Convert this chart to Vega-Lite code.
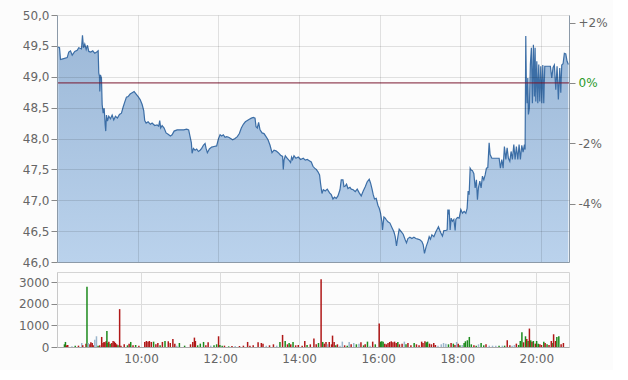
{
  "$schema": "https://vega.github.io/schema/vega-lite/v6.json",
  "background": "#fcfcfc",
  "padding": {"left": 6, "top": 9, "right": 5, "bottom": 5},
  "spacing": 3,
  "config": {
    "view": {"stroke": null},
    "axis": {"labelFont": "DejaVu Sans", "labelFontSize": 12, "labelColor": "#666", "title": null, "tickColor": "#888", "tickSize": 6}
  },
  "datasets": {
    "price": [
      {"h":8.03,"p":49.48},{"h":8.062,"p":49.47},{"h":8.087,"p":49.28},{"h":8.144,"p":49.29},{"h":8.253,"p":49.31},{"h":8.292,"p":49.40},{"h":8.335,"p":49.42},{"h":8.377,"p":49.35},{"h":8.441,"p":49.41},{"h":8.501,"p":49.43},{"h":8.54,"p":49.47},{"h":8.607,"p":49.45},{"h":8.632,"p":49.67},{"h":8.657,"p":49.47},{"h":8.689,"p":49.53},{"h":8.724,"p":49.44},{"h":8.756,"p":49.51},{"h":8.788,"p":49.41},{"h":8.838,"p":49.40},{"h":8.887,"p":49.42},{"h":8.937,"p":49.38},{"h":8.986,"p":49.40},{"h":9.021,"p":49.42},{"h":9.036,"p":49.06},{"h":9.053,"p":49.01},{"h":9.061,"p":48.76},{"h":9.078,"p":49.03},{"h":9.103,"p":48.98},{"h":9.12,"p":48.55},{"h":9.145,"p":48.41},{"h":9.17,"p":48.49},{"h":9.195,"p":48.22},{"h":9.209,"p":48.12},{"h":9.227,"p":48.38},{"h":9.252,"p":48.28},{"h":9.284,"p":48.36},{"h":9.326,"p":48.32},{"h":9.368,"p":48.38},{"h":9.408,"p":48.30},{"h":9.45,"p":48.36},{"h":9.499,"p":48.33},{"h":9.549,"p":48.39},{"h":9.599,"p":48.41},{"h":9.641,"p":48.51},{"h":9.68,"p":48.59},{"h":9.722,"p":48.67},{"h":9.765,"p":48.68},{"h":9.814,"p":48.72},{"h":9.864,"p":48.74},{"h":9.913,"p":48.76},{"h":9.963,"p":48.72},{"h":10.012,"p":48.68},{"h":10.062,"p":48.63},{"h":10.112,"p":48.55},{"h":10.151,"p":48.45},{"h":10.176,"p":48.29},{"h":10.211,"p":48.25},{"h":10.26,"p":48.27},{"h":10.317,"p":48.23},{"h":10.359,"p":48.25},{"h":10.424,"p":48.21},{"h":10.483,"p":48.22},{"h":10.523,"p":48.20},{"h":10.548,"p":48.29},{"h":10.572,"p":48.17},{"h":10.607,"p":48.21},{"h":10.657,"p":48.17},{"h":10.706,"p":48.09},{"h":10.756,"p":48.07},{"h":10.813,"p":48.04},{"h":10.855,"p":48.06},{"h":10.905,"p":48.12},{"h":10.979,"p":48.14},{"h":11.061,"p":48.14},{"h":11.143,"p":48.14},{"h":11.217,"p":48.15},{"h":11.266,"p":48.14},{"h":11.301,"p":48.03},{"h":11.333,"p":47.93},{"h":11.351,"p":47.76},{"h":11.383,"p":47.84},{"h":11.425,"p":47.81},{"h":11.465,"p":47.83},{"h":11.507,"p":47.79},{"h":11.549,"p":47.81},{"h":11.589,"p":47.84},{"h":11.631,"p":47.89},{"h":11.673,"p":47.92},{"h":11.698,"p":47.84},{"h":11.73,"p":47.77},{"h":11.779,"p":47.83},{"h":11.836,"p":47.86},{"h":11.896,"p":47.87},{"h":11.96,"p":47.88},{"h":12.002,"p":47.99},{"h":12.045,"p":48.06},{"h":12.084,"p":48.04},{"h":12.126,"p":48.06},{"h":12.169,"p":48.02},{"h":12.208,"p":48.03},{"h":12.258,"p":48.02},{"h":12.307,"p":48.00},{"h":12.357,"p":47.98},{"h":12.416,"p":48.00},{"h":12.473,"p":48.03},{"h":12.523,"p":48.08},{"h":12.572,"p":48.17},{"h":12.622,"p":48.23},{"h":12.672,"p":48.27},{"h":12.721,"p":48.29},{"h":12.771,"p":48.31},{"h":12.82,"p":48.33},{"h":12.87,"p":48.34},{"h":12.912,"p":48.33},{"h":12.937,"p":48.19},{"h":12.969,"p":48.17},{"h":13.001,"p":48.26},{"h":13.036,"p":48.14},{"h":13.086,"p":48.09},{"h":13.135,"p":48.08},{"h":13.185,"p":48.03},{"h":13.234,"p":47.98},{"h":13.284,"p":47.89},{"h":13.333,"p":47.77},{"h":13.383,"p":47.81},{"h":13.432,"p":47.80},{"h":13.489,"p":47.77},{"h":13.546,"p":47.73},{"h":13.596,"p":47.71},{"h":13.613,"p":47.50},{"h":13.631,"p":47.65},{"h":13.663,"p":47.72},{"h":13.712,"p":47.68},{"h":13.762,"p":47.64},{"h":13.794,"p":47.61},{"h":13.819,"p":47.70},{"h":13.844,"p":47.66},{"h":13.879,"p":47.72},{"h":13.928,"p":47.68},{"h":13.985,"p":47.70},{"h":14.042,"p":47.66},{"h":14.109,"p":47.68},{"h":14.159,"p":47.65},{"h":14.208,"p":47.66},{"h":14.258,"p":47.64},{"h":14.307,"p":47.62},{"h":14.349,"p":47.55},{"h":14.389,"p":47.52},{"h":14.431,"p":47.50},{"h":14.473,"p":47.46},{"h":14.513,"p":47.41},{"h":14.538,"p":47.27},{"h":14.572,"p":47.11},{"h":14.605,"p":47.17},{"h":14.654,"p":47.15},{"h":14.704,"p":47.18},{"h":14.761,"p":47.12},{"h":14.803,"p":47.09},{"h":14.845,"p":47.02},{"h":14.885,"p":47.05},{"h":14.927,"p":47.03},{"h":14.969,"p":47.07},{"h":15.019,"p":47.17},{"h":15.051,"p":47.33},{"h":15.093,"p":47.33},{"h":15.118,"p":47.22},{"h":15.15,"p":47.23},{"h":15.182,"p":47.26},{"h":15.217,"p":47.19},{"h":15.266,"p":47.21},{"h":15.299,"p":47.18},{"h":15.348,"p":47.17},{"h":15.398,"p":47.14},{"h":15.447,"p":47.18},{"h":15.497,"p":47.12},{"h":15.546,"p":47.07},{"h":15.596,"p":47.15},{"h":15.646,"p":47.22},{"h":15.695,"p":47.30},{"h":15.745,"p":47.34},{"h":15.777,"p":47.28},{"h":15.812,"p":47.19},{"h":15.844,"p":47.09},{"h":15.876,"p":47.02},{"h":15.918,"p":47.03},{"h":15.96,"p":46.92},{"h":15.993,"p":46.87},{"h":16.025,"p":46.79},{"h":16.059,"p":46.65},{"h":16.074,"p":46.52},{"h":16.109,"p":46.73},{"h":16.141,"p":46.71},{"h":16.173,"p":46.68},{"h":16.208,"p":46.65},{"h":16.258,"p":46.63},{"h":16.307,"p":46.56},{"h":16.357,"p":46.49},{"h":16.389,"p":46.41},{"h":16.421,"p":46.26},{"h":16.456,"p":46.41},{"h":16.488,"p":46.53},{"h":16.538,"p":46.49},{"h":16.587,"p":46.45},{"h":16.637,"p":46.36},{"h":16.669,"p":46.31},{"h":16.704,"p":46.38},{"h":16.753,"p":46.40},{"h":16.803,"p":46.38},{"h":16.853,"p":46.40},{"h":16.902,"p":46.38},{"h":16.952,"p":46.37},{"h":17.001,"p":46.36},{"h":17.051,"p":46.33},{"h":17.083,"p":46.28},{"h":17.115,"p":46.14},{"h":17.157,"p":46.25},{"h":17.2,"p":46.33},{"h":17.232,"p":46.41},{"h":17.264,"p":46.37},{"h":17.299,"p":46.44},{"h":17.348,"p":46.41},{"h":17.398,"p":46.49},{"h":17.43,"p":46.53},{"h":17.462,"p":46.57},{"h":17.497,"p":46.51},{"h":17.522,"p":46.47},{"h":17.561,"p":46.42},{"h":17.596,"p":46.51},{"h":17.646,"p":46.51},{"h":17.678,"p":46.52},{"h":17.695,"p":46.85},{"h":17.71,"p":46.77},{"h":17.727,"p":46.85},{"h":17.752,"p":46.52},{"h":17.777,"p":46.71},{"h":17.809,"p":46.66},{"h":17.844,"p":46.69},{"h":17.876,"p":46.51},{"h":17.893,"p":46.69},{"h":17.933,"p":46.72},{"h":17.975,"p":46.71},{"h":18.017,"p":46.85},{"h":18.057,"p":46.79},{"h":18.099,"p":46.82},{"h":18.141,"p":46.79},{"h":18.173,"p":46.87},{"h":18.198,"p":47.15},{"h":18.223,"p":47.09},{"h":18.248,"p":47.52},{"h":18.273,"p":47.49},{"h":18.305,"p":47.48},{"h":18.34,"p":47.43},{"h":18.372,"p":47.20},{"h":18.404,"p":47.33},{"h":18.429,"p":47.01},{"h":18.453,"p":47.20},{"h":18.488,"p":47.31},{"h":18.52,"p":47.20},{"h":18.553,"p":47.39},{"h":18.587,"p":47.33},{"h":18.62,"p":47.41},{"h":18.652,"p":47.52},{"h":18.686,"p":47.53},{"h":18.719,"p":47.93},{"h":18.743,"p":47.74},{"h":18.786,"p":47.68},{"h":18.843,"p":47.68},{"h":18.9,"p":47.68},{"h":18.967,"p":47.68},{"h":18.999,"p":47.52},{"h":19.033,"p":47.66},{"h":19.066,"p":47.52},{"h":19.098,"p":47.87},{"h":19.133,"p":47.66},{"h":19.165,"p":47.85},{"h":19.197,"p":47.68},{"h":19.232,"p":47.63},{"h":19.264,"p":47.79},{"h":19.296,"p":47.66},{"h":19.331,"p":47.90},{"h":19.363,"p":47.66},{"h":19.395,"p":47.87},{"h":19.43,"p":47.66},{"h":19.462,"p":47.90},{"h":19.494,"p":47.66},{"h":19.529,"p":47.89},{"h":19.561,"p":47.78},{"h":19.594,"p":47.90},{"h":19.611,"p":47.82},{"h":19.628,"p":49.66},{"h":19.643,"p":48.82},{"h":19.66,"p":48.57},{"h":19.678,"p":48.98},{"h":19.693,"p":48.39},{"h":19.717,"p":48.49},{"h":19.742,"p":49.20},{"h":19.767,"p":49.47},{"h":19.792,"p":48.57},{"h":19.817,"p":49.52},{"h":19.841,"p":48.68},{"h":19.859,"p":49.47},{"h":19.876,"p":48.60},{"h":19.901,"p":49.25},{"h":19.926,"p":48.57},{"h":19.95,"p":49.20},{"h":19.975,"p":48.60},{"h":20.0,"p":49.17},{"h":20.025,"p":48.57},{"h":20.05,"p":49.19},{"h":20.074,"p":48.57},{"h":20.099,"p":49.17},{"h":20.139,"p":49.17},{"h":20.188,"p":49.17},{"h":20.238,"p":49.17},{"h":20.272,"p":48.98},{"h":20.305,"p":49.15},{"h":20.337,"p":49.19},{"h":20.372,"p":48.79},{"h":20.404,"p":49.17},{"h":20.436,"p":48.63},{"h":20.471,"p":49.14},{"h":20.496,"p":48.74},{"h":20.52,"p":49.19},{"h":20.553,"p":49.21},{"h":20.585,"p":49.38},{"h":20.62,"p":49.37},{"h":20.652,"p":49.25},{"h":20.684,"p":49.20}
    ],
    "volume": [
      {"h":8.062,"v":124,"c":"g"},{"h":8.087,"v":233,"c":"g"},{"h":8.112,"v":78,"c":"r"},{"h":8.145,"v":93,"c":"r"},{"h":8.252,"v":31,"c":"b"},{"h":8.335,"v":62,"c":"g"},{"h":8.417,"v":62,"c":"r"},{"h":8.5,"v":186,"c":"b"},{"h":8.525,"v":78,"c":"r"},{"h":8.607,"v":155,"c":"r"},{"h":8.632,"v":2790,"c":"g"},{"h":8.665,"v":186,"c":"b"},{"h":8.706,"v":124,"c":"r"},{"h":8.731,"v":217,"c":"r"},{"h":8.764,"v":186,"c":"r"},{"h":8.789,"v":78,"c":"r"},{"h":8.83,"v":341,"c":"b"},{"h":8.872,"v":496,"c":"b"},{"h":8.913,"v":62,"c":"g"},{"h":8.954,"v":78,"c":"r"},{"h":9.004,"v":465,"c":"r"},{"h":9.037,"v":186,"c":"r"},{"h":9.062,"v":233,"c":"r"},{"h":9.086,"v":217,"c":"r"},{"h":9.119,"v":279,"c":"r"},{"h":9.136,"v":744,"c":"g"},{"h":9.161,"v":186,"c":"g"},{"h":9.185,"v":248,"c":"r"},{"h":9.218,"v":155,"c":"g"},{"h":9.26,"v":186,"c":"r"},{"h":9.293,"v":279,"c":"r"},{"h":9.326,"v":248,"c":"r"},{"h":9.351,"v":186,"c":"r"},{"h":9.384,"v":124,"c":"r"},{"h":9.417,"v":78,"c":"g"},{"h":9.458,"v":1752,"c":"r"},{"h":9.491,"v":62,"c":"r"},{"h":9.574,"v":124,"c":"r"},{"h":9.656,"v":78,"c":"g"},{"h":9.698,"v":155,"c":"r"},{"h":9.739,"v":233,"c":"g"},{"h":9.797,"v":78,"c":"r"},{"h":9.863,"v":93,"c":"g"},{"h":9.945,"v":62,"c":"r"},{"h":10.094,"v":233,"c":"r"},{"h":10.135,"v":279,"c":"r"},{"h":10.177,"v":248,"c":"r"},{"h":10.21,"v":279,"c":"r"},{"h":10.259,"v":233,"c":"r"},{"h":10.317,"v":248,"c":"g"},{"h":10.375,"v":124,"c":"r"},{"h":10.425,"v":186,"c":"r"},{"h":10.482,"v":78,"c":"g"},{"h":10.54,"v":233,"c":"r"},{"h":10.606,"v":279,"c":"g"},{"h":10.689,"v":264,"c":"r"},{"h":10.739,"v":186,"c":"r"},{"h":10.805,"v":372,"c":"r"},{"h":10.854,"v":155,"c":"r"},{"h":10.904,"v":62,"c":"b"},{"h":10.97,"v":186,"c":"g"},{"h":11.102,"v":62,"c":"g"},{"h":11.251,"v":124,"c":"r"},{"h":11.309,"v":233,"c":"r"},{"h":11.35,"v":434,"c":"r"},{"h":11.375,"v":279,"c":"r"},{"h":11.432,"v":78,"c":"g"},{"h":11.499,"v":155,"c":"g"},{"h":11.581,"v":233,"c":"g"},{"h":11.639,"v":78,"c":"r"},{"h":11.697,"v":217,"c":"r"},{"h":11.763,"v":62,"c":"b"},{"h":11.846,"v":78,"c":"g"},{"h":11.912,"v":124,"c":"g"},{"h":11.961,"v":496,"c":"r"},{"h":11.994,"v":93,"c":"g"},{"h":12.052,"v":62,"c":"g"},{"h":12.11,"v":62,"c":"r"},{"h":12.217,"v":31,"c":"g"},{"h":12.3,"v":47,"c":"r"},{"h":12.382,"v":47,"c":"b"},{"h":12.49,"v":47,"c":"r"},{"h":12.589,"v":62,"c":"r"},{"h":12.696,"v":233,"c":"r"},{"h":12.754,"v":62,"c":"r"},{"h":12.837,"v":78,"c":"r"},{"h":12.961,"v":217,"c":"r"},{"h":13.043,"v":186,"c":"r"},{"h":13.085,"v":155,"c":"r"},{"h":13.167,"v":62,"c":"b"},{"h":13.25,"v":78,"c":"r"},{"h":13.349,"v":124,"c":"r"},{"h":13.432,"v":62,"c":"b"},{"h":13.514,"v":233,"c":"g"},{"h":13.58,"v":558,"c":"r"},{"h":13.646,"v":279,"c":"g"},{"h":13.704,"v":124,"c":"r"},{"h":13.746,"v":186,"c":"g"},{"h":13.787,"v":124,"c":"r"},{"h":13.845,"v":233,"c":"g"},{"h":13.911,"v":78,"c":"r"},{"h":13.977,"v":93,"c":"r"},{"h":14.076,"v":62,"c":"r"},{"h":14.142,"v":279,"c":"r"},{"h":14.2,"v":93,"c":"g"},{"h":14.282,"v":124,"c":"r"},
      {"h":14.373,"v":388,"c":"r"},{"h":14.431,"v":124,"c":"r"},{"h":14.489,"v":186,"c":"g"},{"h":14.555,"v":3131,"c":"r"},{"h":14.596,"v":233,"c":"g"},{"h":14.637,"v":155,"c":"r"},{"h":14.679,"v":233,"c":"r"},{"h":14.72,"v":124,"c":"b"},{"h":14.761,"v":233,"c":"r"},{"h":14.819,"v":124,"c":"r"},{"h":14.844,"v":527,"c":"r"},{"h":14.885,"v":233,"c":"r"},{"h":14.927,"v":78,"c":"g"},{"h":14.968,"v":124,"c":"r"},{"h":15.034,"v":62,"c":"b"},{"h":15.092,"v":248,"c":"b"},{"h":15.15,"v":78,"c":"r"},{"h":15.216,"v":62,"c":"g"},{"h":15.265,"v":233,"c":"b"},{"h":15.315,"v":124,"c":"r"},{"h":15.381,"v":186,"c":"b"},{"h":15.447,"v":124,"c":"g"},{"h":15.513,"v":155,"c":"b"},{"h":15.563,"v":217,"c":"r"},{"h":15.629,"v":78,"c":"g"},{"h":15.67,"v":124,"c":"r"},{"h":15.728,"v":248,"c":"g"},{"h":15.794,"v":62,"c":"b"},{"h":15.86,"v":248,"c":"r"},{"h":15.926,"v":124,"c":"g"},{"h":16.025,"v":1085,"c":"r"},{"h":16.058,"v":248,"c":"g"},{"h":16.091,"v":264,"c":"g"},{"h":16.124,"v":248,"c":"g"},{"h":16.166,"v":155,"c":"r"},{"h":16.207,"v":124,"c":"r"},{"h":16.248,"v":186,"c":"r"},{"h":16.29,"v":233,"c":"r"},{"h":16.331,"v":264,"c":"r"},{"h":16.372,"v":217,"c":"r"},{"h":16.414,"v":248,"c":"r"},{"h":16.455,"v":186,"c":"r"},{"h":16.496,"v":233,"c":"g"},{"h":16.537,"v":124,"c":"r"},{"h":16.604,"v":155,"c":"r"},{"h":16.661,"v":248,"c":"b"},{"h":16.703,"v":124,"c":"g"},{"h":16.752,"v":186,"c":"r"},{"h":16.827,"v":78,"c":"r"},{"h":16.909,"v":186,"c":"g"},{"h":16.967,"v":124,"c":"r"},{"h":17.033,"v":78,"c":"r"},{"h":17.099,"v":248,"c":"r"},{"h":17.132,"v":186,"c":"r"},{"h":17.182,"v":264,"c":"r"},{"h":17.215,"v":217,"c":"g"},{"h":17.248,"v":248,"c":"g"},{"h":17.297,"v":155,"c":"r"},{"h":17.347,"v":124,"c":"r"},{"h":17.405,"v":186,"c":"r"},{"h":17.446,"v":93,"c":"r"},{"h":17.512,"v":62,"c":"b"},{"h":17.595,"v":124,"c":"b"},{"h":17.653,"v":186,"c":"b"},{"h":17.711,"v":155,"c":"b"},{"h":17.777,"v":124,"c":"g"},{"h":17.843,"v":186,"c":"r"},{"h":17.901,"v":155,"c":"g"},{"h":17.942,"v":93,"c":"r"},{"h":17.983,"v":233,"c":"b"},{"h":18.024,"v":155,"c":"r"},{"h":18.066,"v":78,"c":"g"},{"h":18.124,"v":93,"c":"b"},{"h":18.173,"v":186,"c":"g"},{"h":18.206,"v":264,"c":"g"},{"h":18.256,"v":310,"c":"g"},{"h":18.305,"v":465,"c":"g"},{"h":18.355,"v":124,"c":"g"},{"h":18.421,"v":78,"c":"r"},{"h":18.479,"v":62,"c":"g"},{"h":18.537,"v":124,"c":"b"},{"h":18.603,"v":186,"c":"g"},{"h":18.669,"v":78,"c":"g"},{"h":18.727,"v":124,"c":"r"},{"h":18.809,"v":62,"c":"b"},{"h":18.892,"v":62,"c":"b"},{"h":18.974,"v":62,"c":"b"},{"h":19.057,"v":62,"c":"g"},{"h":19.14,"v":62,"c":"b"},{"h":19.198,"v":62,"c":"g"},{"h":19.264,"v":310,"c":"r"},{"h":19.33,"v":78,"c":"r"},{"h":19.388,"v":62,"c":"b"},{"h":19.445,"v":93,"c":"b"},{"h":19.495,"v":155,"c":"r"},{"h":19.553,"v":93,"c":"g"},{"h":19.594,"v":279,"c":"g"},{"h":19.635,"v":682,"c":"g"},{"h":19.677,"v":217,"c":"r"},{"h":19.726,"v":496,"c":"g"},{"h":19.759,"v":372,"c":"r"},{"h":19.792,"v":279,"c":"g"},{"h":19.825,"v":853,"c":"r"},{"h":19.858,"v":310,"c":"g"},{"h":19.891,"v":248,"c":"r"},{"h":19.925,"v":279,"c":"g"},{"h":19.974,"v":155,"c":"r"},{"h":20.007,"v":279,"c":"g"},{"h":20.048,"v":155,"c":"g"},{"h":20.09,"v":124,"c":"r"},{"h":20.131,"v":93,"c":"r"},{"h":20.189,"v":248,"c":"g"},{"h":20.222,"v":186,"c":"r"},{"h":20.271,"v":124,"c":"g"},{"h":20.321,"v":93,"c":"r"},{"h":20.379,"v":279,"c":"r"},{"h":20.42,"v":186,"c":"g"},{"h":20.437,"v":589,"c":"r"},{"h":20.486,"v":279,"c":"r"},{"h":20.519,"v":465,"c":"g"},{"h":20.569,"v":496,"c":"g"},{"h":20.627,"v":124,"c":"r"},{"h":20.685,"v":186,"c":"r"}
    ]
  },
  "vconcat": [
    {
      "width": 512,
      "height": 247,
      "layer": [
        {
          "data": {"name": "price"},
          "encoding": {
            "x": {"field": "h", "type": "quantitative", "scale": {"domain": [8, 20.7], "nice": false, "zero": false},
                  "axis": {"values": [10, 12, 14, 16, 18, 20], "labels": false, "ticks": false, "grid": true, "gridColor": "rgba(0,0,0,0.11)", "domainColor": "#8c9aa8", "zindex": 1, "minExtent": 0, "maxExtent": 0, "offset": 0}},
            "y": {"field": "p", "type": "quantitative", "scale": {"domain": [46, 50], "nice": false, "zero": false},
                  "axis": {"values": [46, 46.5, 47, 47.5, 48, 48.5, 49, 49.5, 50], "labelExpr": "replace(format(datum.value, '.1f'), '.', ',')", "grid": true, "gridColor": "rgba(0,0,0,0.11)", "domainColor": "#8c9aa8", "labelPadding": 2, "minExtent": 50, "maxExtent": 50, "zindex": 1}}
          },
          "layer": [
            {"mark": {"type": "area", "clip": true, "color": {"gradient": "linear", "x1": 0, "y1": 0, "x2": 0, "y2": 1, "stops": [{"offset": 0, "color": "#9db9d8"}, {"offset": 1, "color": "#bad2ec"}]}}, "encoding": {"y2": {"datum": 46}}},
            {"mark": {"type": "line", "color": "#3c6ea6", "strokeWidth": 1.2}}
          ]
        },
        {
          "data": {"values": [{}]},
          "mark": {"type": "rule", "color": "#7a1830", "strokeWidth": 1},
          "encoding": {
            "y": {"datum": 0, "type": "quantitative", "scale": {"domain": [-5.93, 2.249], "nice": false, "zero": false},
                  "axis": {"orient": "right", "values": [-4, -2, 0, 2], "grid": false, "labelExpr": "(datum.value > 0 ? '+' : '') + datum.value + '%'", "labelColor": {"condition": {"test": "datum.value == 0", "value": "#2a9a2a"}, "value": "#666"}, "labelPadding": 3, "domainColor": "#8c9aa8"}}
          }
        }
      ],
      "resolve": {"scale": {"y": "independent"}}
    },
    {
      "width": 512,
      "height": 75,
      "view": {"stroke": "#d4d4d4"},
      "data": {"name": "volume"},
      "mark": {"type": "bar", "width": 1.5},
      "encoding": {
        "x": {"field": "h", "type": "quantitative", "scale": {"domain": [8, 20.7], "nice": false, "zero": false},
              "axis": {"values": [10, 12, 14, 16, 18, 20], "labelExpr": "datum.value + ':00'", "ticks": false, "grid": true, "gridColor": "#dcdcdc", "domainColor": "#aaaaaa", "labelPadding": 6}},
        "y": {"field": "v", "type": "quantitative", "scale": {"domain": [0, 3470], "nice": false},
              "axis": {"values": [0, 1000, 2000, 3000], "format": "d", "grid": true, "gridColor": "#dcdcdc", "domainColor": "#c8c8c8", "labelPadding": 2, "minExtent": 50, "maxExtent": 50}},
        "color": {"field": "c", "type": "nominal", "scale": {"domain": ["g", "r", "b"], "range": ["#1c8a1c", "#b01818", "#9bb6cc"]}, "legend": null}
      }
    }
  ]
}
